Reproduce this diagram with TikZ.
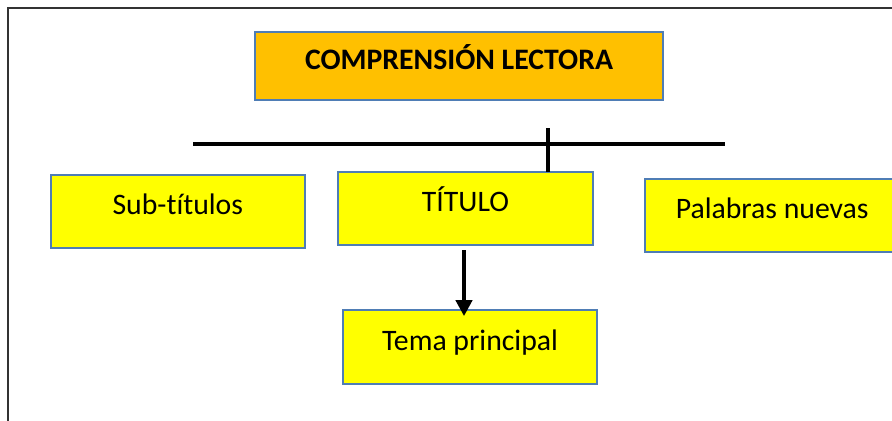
\documentclass[tikz,border=0pt]{standalone}
\usepackage{fontspec}
\setmainfont{Carlito}[Ligatures=NoCommon]
\usetikzlibrary{positioning,arrows.meta}
\definecolor{boxline}{HTML}{4F7DB5}
\definecolor{headfill}{HTML}{FFC000}
\definecolor{itemfill}{HTML}{FFFF00}
\tikzset{
  box/.style={draw=boxline, line width=1.5pt, outer sep=0pt, inner sep=0pt,
    minimum width=191pt, minimum height=55pt, text height=14pt, text depth=9pt,
    font=\fontsize{22.3}{27}\selectfont},
  headbox/.style={box, fill=headfill, minimum width=306pt, minimum height=51pt,
    font=\fontsize{22.3}{27}\selectfont\bfseries},
  itembox/.style={box, fill=itemfill},
  bar/.style={line width=3pt}
}

\begin{document}
\begin{tikzpicture}[x=0.75pt, y=-0.75pt]
  \useasboundingbox (0,0) rectangle (892,421);
  \draw[line width=1.8pt, black!80] (8,421) -- (8,8) -- (892,8);

  \node[headbox] (lectura) at (459,66) {COMPRENSIÓN LECTORA};
  \node[itembox] (titulo) at (465.5,208.5) {TÍTULO};
  \node[itembox, left=24.75pt of titulo, yshift=-2.25pt] (subtitulos) {Sub-títulos};
  \node[itembox, right=39pt of titulo, yshift=-5.25pt] (palabras) {Palabras nuevas};
  \node[itembox, below=48.75pt of titulo, xshift=3.4pt] (tema) {Tema principal};

  \coordinate (barL) at (193,144);
  \coordinate (barR) at (725,144);
  \coordinate (tick) at (548,128);
  \draw[bar] (barL) -- (barR);
  \draw[bar] (tick) -- (tick |- titulo.north);
  \draw[line width=3pt, -{Triangle[width=12pt,length=12pt]}, shorten <=3.75pt, shorten >=-4.5pt]
    (titulo.south -| 464,0) -- (tema.north -| 464,0);
\end{tikzpicture}
\end{document}
